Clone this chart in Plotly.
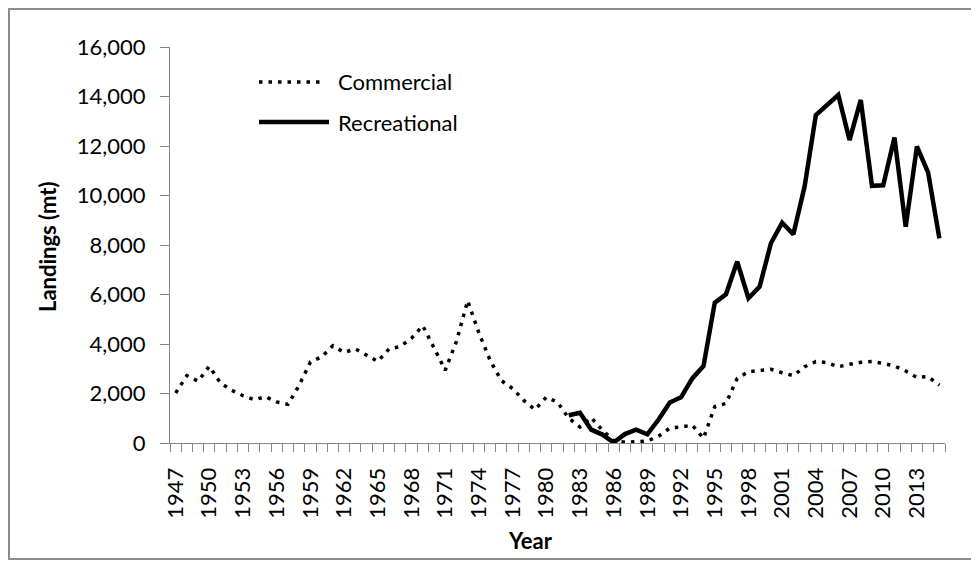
import plotly.graph_objects as go

years = list(range(1947, 2016))

commercial = [2020, 2720, 2500, 3100, 2420, 2130, 1910, 1750, 1870, 1660,
              1560, 2330, 3270, 3480, 3930, 3660, 3800, 3530, 3300, 3800,
              3900, 4230, 4740, 3850, 2940, 4100, 5750, 4450, 3340, 2520,
              2200, 1720, 1350, 1850, 1650, 1000, 650, 1030, 510, 100,
              30, 50, 80, 280, 600, 650, 720, 190, 1470, 1600,
              2610, 2880, 2940, 2980, 2840, 2720, 3080, 3290, 3250, 3080,
              3180, 3260, 3290, 3220, 3110, 2910, 2650, 2680, 2340]

recreational = [None] * 35 + [1120, 1220, 540, 340, 20, 360, 540, 350, 950, 1640,
                              1845, 2610, 3110, 5670, 6010, 7330, 5850, 6320, 8070, 8900,
                              8430, 10360, 13250, 13660, 14060, 12240, 13860, 10390, 10410, 12340,
                              8740, 11980, 10920, 8270]

series_names = ["Commercial", "Recreational"]
y_ticks = list(range(0, 16001, 2000))

# page has an 8px body margin; figure sized to fit the 979x561 window
OFF = 8
W, H = 979 - OFF, 561 - OFF
# plot area in page pixels
L, R, T, B = 170, 945, 47, 443
FONT = "Lato, 'Noto Sans', sans-serif"
AX = "#868686"
DOT = "3.5px,6px"
FS = 22


def px_x(p):
    return (p - L) / (R - L)


def px_y(p):
    return (B - p) / (B - T)


fig = go.Figure()
fig.add_trace(go.Scatter(x=years, y=commercial, mode="lines", name=series_names[0],
                         line=dict(color="black", width=3.5, dash=DOT), showlegend=False))
fig.add_trace(go.Scatter(x=years, y=recreational, mode="lines", name=series_names[1],
                         line=dict(color="black", width=4.5), showlegend=False,
                         connectgaps=False))

shapes = [
    dict(type="rect", xref="paper", yref="paper", x0=px_x(OFF + 1), x1=px_x(995),
         y0=px_y(OFF + 1), y1=px_y(559), line=dict(color="#8c8c8c", width=2)),
    dict(type="line", xref="paper", yref="paper", x0=px_x(259), x1=px_x(324),
         y0=px_y(82), y1=px_y(82), line=dict(color="black", width=3.5, dash=DOT)),
    dict(type="line", xref="paper", yref="paper", x0=px_x(259), x1=px_x(329),
         y0=px_y(122), y1=px_y(122), line=dict(color="black", width=4.5)),
]

annotations = [
    dict(text=series_names[0], xref="paper", yref="paper", x=px_x(336), y=px_y(82),
         xanchor="left", yanchor="middle", showarrow=False, font=dict(size=FS, color="black", family=FONT)),
    dict(text=series_names[1], xref="paper", yref="paper", x=px_x(336), y=px_y(122),
         xanchor="left", yanchor="middle", showarrow=False, font=dict(size=FS, color="black", family=FONT)),
    dict(text="<b>Year</b>", xref="paper", yref="paper", x=px_x(530), y=px_y(540),
         xanchor="center", yanchor="middle", showarrow=False, font=dict(size=FS, color="black", family=FONT)),
    dict(text="<b>Landings (mt)</b>", xref="paper", yref="paper", x=px_x(47), y=px_y(246),
         xanchor="center", yanchor="middle", textangle=-90, showarrow=False,
         font=dict(size=FS, color="black", family=FONT)),
]

fig.update_layout(
    width=W, height=H,
    margin=dict(l=L - OFF, r=W - (R - OFF), t=T - OFF, b=H - (B - OFF), pad=0),
    paper_bgcolor="white", plot_bgcolor="white",
    font=dict(family=FONT, size=FS, color="black"),
    shapes=shapes, annotations=annotations,
    xaxis=dict(range=[1946.5, 2015.5], tickmode="linear", tick0=1947, dtick=3,
               tickangle=-90, ticks="", showgrid=False, zeroline=False,
               showline=True, linecolor=AX, linewidth=1,
               tickfont=dict(size=FS, family=FONT, color="black"),
               ticklabelstandoff=15,
               minor=dict(tickmode="linear", tick0=1946.5, dtick=1, ticks="outside",
                          ticklen=8, tickcolor=AX, tickwidth=1, showgrid=False)),
    yaxis=dict(range=[0, 16000], tickmode="array", tickvals=y_ticks,
               tickformat=",", ticks="outside", ticklen=9, tickcolor=AX, tickwidth=1,
               showgrid=False, zeroline=False, showline=True, linecolor=AX, linewidth=1,
               tickfont=dict(size=FS, family=FONT, color="black"),
               ticklabelstandoff=10),
)

fig.write_html("out.html")
